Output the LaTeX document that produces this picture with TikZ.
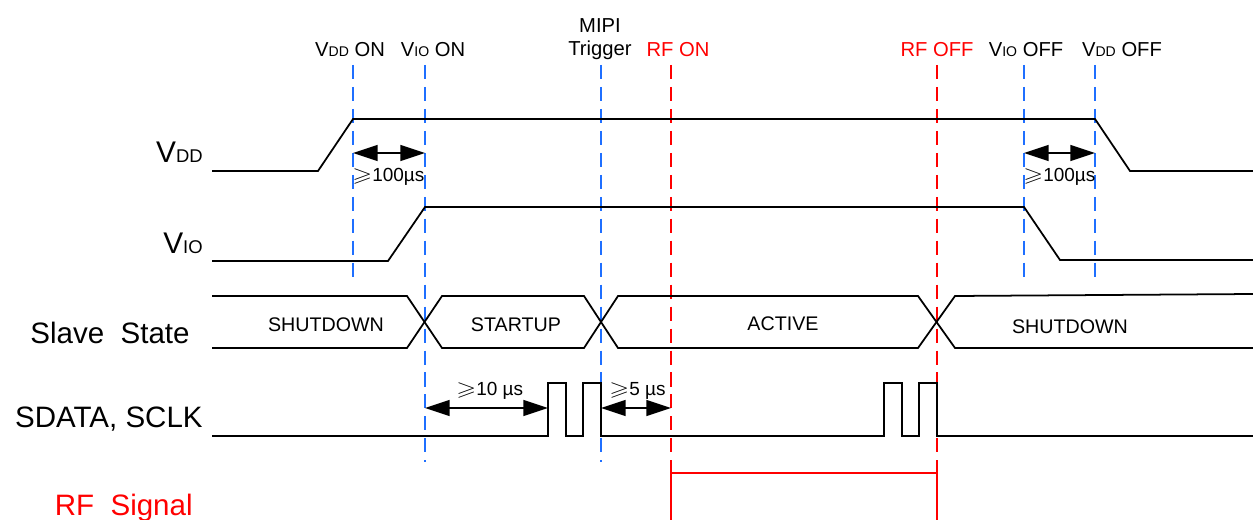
\documentclass[tikz,border=0pt]{standalone}
\usepackage{fontspec}
\setmainfont{Liberation Sans}
\usepackage{amssymb}
\usetikzlibrary{arrows.meta}
\definecolor{mblue}{HTML}{1F6FFF}
\definecolor{mred}{HTML}{FF0000}
\newcommand{\Vs}[2]{V{\fontsize{#2}{#2}\selectfont #1}}
\newcommand{\gsl}{\scalebox{1.35}[1.05]{$\geqslant$}}
\tikzset{
  wave/.style={line width=1pt},
  bmark/.style={draw=mblue,line width=0.85pt,dash pattern=on 8pt off 4.5pt},
  rmark/.style={bmark,draw=mred},
  dim/.style={{Triangle[length=14pt,width=9pt]}-{Triangle[length=14pt,width=9pt]},line width=1.1pt},
  evlab/.style={font=\fontsize{11.5}{13.3}\selectfont,anchor=base,inner sep=0pt,align=center},
  siglab/.style={font=\fontsize{16.8}{19}\selectfont,anchor=base east,inner sep=0pt},
  statelab/.style={font=\fontsize{11.2}{13}\selectfont,anchor=base,inner sep=0pt},
  dimlab/.style={font=\fontsize{10.8}{12}\selectfont,anchor=base west,inner sep=0pt},
}
\begin{document}
\begin{tikzpicture}[x=0.02cm,y=-0.02cm]
\useasboundingbox (0,0) rectangle (1253,520);
% event instants
\coordinate (vddon) at (353,65);
\coordinate (vioon) at (425,65);
\coordinate (mipi) at (601,65);
\coordinate (rfon) at (671,65);
\coordinate (rfoff) at (937,65);
\coordinate (viooff) at (1024,65);
\coordinate (vddoff) at (1095,65);
% event labels
\node[evlab] (lvddon) at (350,57) {\Vs{DD}{8} ON};
\node[evlab] (lvioon) at (433,57) {\Vs{IO}{8} ON};
\node[evlab] (lmipi) at (600,56) {MIPI\\Trigger};
\node[evlab,text=mred] (lrfon) at (678,57) {RF ON};
\node[evlab,text=mred] (lrfoff) at (937,57) {RF OFF};
\node[evlab] (lviooff) at (1026,57) {\Vs{IO}{8} OFF};
\node[evlab] (lvddoff) at (1122,57) {\Vs{DD}{8} OFF};
% dashed marks
\foreach \e/\l in {vddon/218,vioon/397,mipi/397,viooff/218,vddoff/218}
  \draw[bmark] (\e) -- ++(0,\l);
\foreach \e in {rfon,rfoff}
  \draw[rmark] (\e) -- ++(0,460);
% signal names
\node[siglab,font=\fontsize{17}{19}\selectfont] (nvdd) at (203,163) {\Vs{DD}{10.5}};
\node[siglab,font=\fontsize{17}{19}\selectfont] (nvio) at (203,253) {\Vs{IO}{10.5}};
\node[siglab] (nstate) at (190,343) {Slave\ \ State};
\node[siglab] (nbus) at (203,427) {SDATA, SCLK};
\node[siglab,text=mred] (nrf) at (193,515) {RF\ \ Signal};
% waveforms
\draw[wave] (212,171) -- (318,171) -- (353,119) -- (1095,119) -- (1130,171) -- (1253,171);
\draw[wave] (212,261) -- (388,261) -- (425,207) -- (1024,207) -- (1060,260) -- (1253,260);
\draw[wave] (212,296) -- (407,296) -- (442,348) -- (584,348) -- (618,296) -- (918,296) -- (955,348) -- (1253,348);
\draw[wave] (212,348) -- (407,348) -- (442,296) -- (584,296) -- (618,348) -- (918,348) -- (955,296) -- (1253,294);
\draw[wave] (212,436) -- (548,436) -- (548,383) -- (566,383) -- (566,436) -- (583,436) -- (583,383)
  -- (601,383) -- (601,436) -- (884,436) -- (884,383) -- (902,383) -- (902,436) -- (919,436)
  -- (919,383) -- (937,383) -- (937,436) -- (1253,436);
\draw[wave,mred] (671,522) -- (671,473) -- (937,473) -- (937,522);
% states
\node[statelab] (sshut) at (326,331) {SHUTDOWN};
\node[statelab] (sstart) at (516,331) {STARTUP};
\node[statelab] (sact) at (783,330) {ACTIVE};
\node[statelab] (sshut2) at (1070,333) {SHUTDOWN};
% timing constraints
\draw[dim] (vddon |- 0,153) -- (vioon |- 0,153);
\node[dimlab] (t1) at (352,182) {\gsl100µs};
\draw[dim] (viooff |- 0,153) -- (vddoff |- 0,153);
\node[dimlab] (t2) at (1023,182) {\gsl100µs};
\draw[dim] (vioon |- 0,408) -- (548,408);
\node[dimlab] (t3) at (456,395) {\gsl10 µs};
\draw[dim] (mipi |- 0,408) -- (rfon |- 0,408);
\node[dimlab] (t4) at (609,395) {\gsl5 µs};
\end{tikzpicture}
\end{document}
